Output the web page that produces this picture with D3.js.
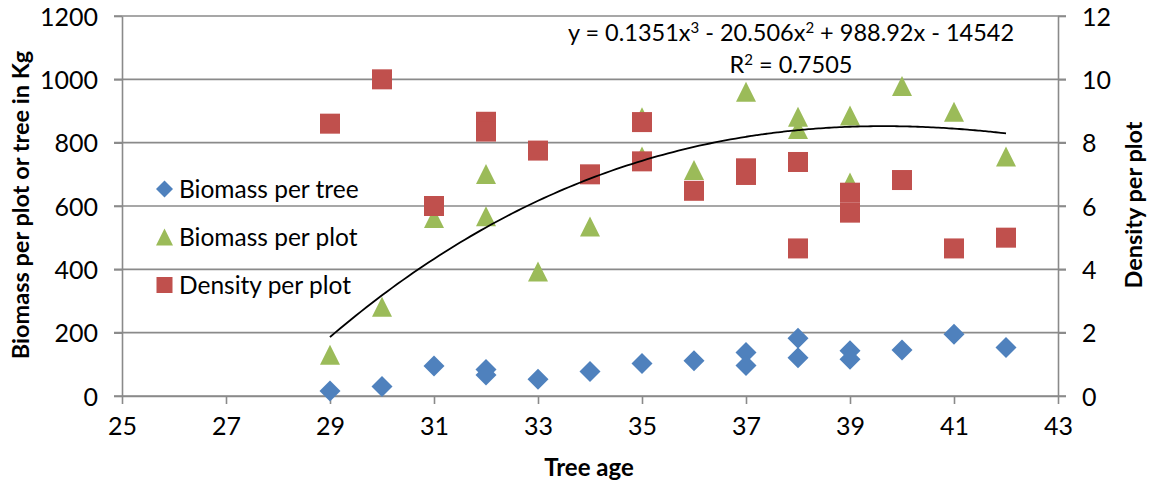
<!DOCTYPE html>
<html>
<head>
<meta charset="utf-8">
<script src="https://cdn.jsdelivr.net/npm/d3@7"></script>
<style>
  html, body { margin: 0; padding: 0; background: #fff; }
  svg { display: block; font-family: Lato, "Open Sans", sans-serif; }
</style>
</head>
<body>
<svg id="chart" width="1150" height="486"></svg>
<script>
// Tree age (x) for each series
const treeAges    = [29, 30, 31, 32, 32, 33, 34, 35, 36, 37, 37, 38, 38, 39, 39, 40, 41, 42];
const biomassTree = [16, 30, 95, 84, 66, 53, 77, 103, 111, 137, 96, 182, 121, 143, 116, 145, 195, 153];

const plotAges    = [29, 30, 31, 32, 32, 33, 34, 35, 35, 36, 37, 38, 38, 39, 39, 40, 41, 42];
const biomassPlot = [130, 282, 562, 701, 568, 393, 535, 880, 756, 714, 961, 882, 843, 886, 674, 979, 898, 756];

const densityAges = [29, 30, 31, 32, 32, 33, 34, 35, 35, 36, 37, 37, 38, 38, 39, 39, 40, 41, 42];
const densityPlot = [8.6, 10.0, 6.0, 8.66, 8.35, 7.75, 7.0, 8.65, 7.41, 6.48, 7.19, 6.98, 7.39, 4.66, 6.42, 5.79, 6.82, 4.66, 5.0];

// Polynomial trendline (order 3) on biomass per plot: c3*x^3 + c2*x^2 + c1*x + c0
const trendCoefs = [0.1351, -20.506, 988.92, -14542];
const trendRange = [29, 42];
const trendR2 = "0.7505";

// Axis ticks
const xTicks = [25, 27, 29, 31, 33, 35, 37, 39, 41, 43];
const leftTicks = [0, 200, 400, 600, 800, 1000, 1200];
const rightTicks = [0, 2, 4, 6, 8, 10, 12];

const seriesNames = ["Biomass per tree", "Biomass per plot", "Density per plot"];
const colors = { tree: "#4F81BD", plot: "#9BBB59", density: "#C0504D" };

const svg = d3.select("#chart");
const L = 122, R = 1058, T = 16, B = 396;

const x = d3.scaleLinear().domain([25, 43]).range([L, R]);
const yL = d3.scaleLinear().domain([0, 1200]).range([B, T]);
const yR = d3.scaleLinear().domain([0, 12]).range([B, T]);

const gridColor = "#8a8a8a";
const plain = d3.format("d");

// Horizontal gridlines (extend past the axes as tick marks)
svg.append("g").selectAll("line").data(leftTicks).join("line")
  .attr("x1", L - 8).attr("x2", R + 8)
  .attr("y1", d => yL(d)).attr("y2", d => yL(d))
  .attr("stroke", gridColor).attr("stroke-width", 1.6);

// Left axis
const gL = svg.append("g").attr("transform", `translate(${L},0)`)
  .call(d3.axisLeft(yL).tickValues(leftTicks).tickFormat(plain).tickSize(8).tickPadding(16).tickSizeOuter(0));
// Right axis
const gR = svg.append("g").attr("transform", `translate(${R},0)`)
  .call(d3.axisRight(yR).tickValues(rightTicks).tickFormat(plain).tickSize(8).tickPadding(16).tickSizeOuter(0));
// Bottom axis
const gB = svg.append("g").attr("transform", `translate(0,${B})`)
  .call(d3.axisBottom(x).tickValues(xTicks).tickFormat(plain).tickSize(8).tickPadding(13).tickSizeOuter(0));

[gL, gR, gB].forEach(g => {
  g.select(".domain").attr("stroke", gridColor).attr("stroke-width", 1.6);
  g.selectAll(".tick line").attr("stroke", gridColor).attr("stroke-width", 1.6);
  g.selectAll(".tick text").attr("fill", "#000").style("font-size", "25px")
    .style("font-family", "Lato, sans-serif");
});
gL.selectAll(".tick text").attr("dy", "0.36em");
gR.selectAll(".tick text").attr("dy", "0.36em");

// Marker shapes
function diamond(g, cx, cy, r) {
  g.append("path").attr("d", `M${cx},${cy - r}L${cx + r},${cy}L${cx},${cy + r}L${cx - r},${cy}Z`);
}
function triangle(g, cx, cy, s) {
  const h = s;
  g.append("path").attr("d", `M${cx},${cy - h / 2}L${cx + s / 2},${cy + h / 2}L${cx - s / 2},${cy + h / 2}Z`);
}
function square(g, cx, cy, s) {
  g.append("rect").attr("x", cx - s / 2).attr("y", cy - s / 2).attr("width", s).attr("height", s);
}

// Biomass per tree (diamonds)
const gTree = svg.append("g").attr("fill", colors.tree);
treeAges.forEach((a, i) => diamond(gTree, x(a), yL(biomassTree[i]), 10.5));

// Biomass per plot (triangles)
const gPlot = svg.append("g").attr("fill", colors.plot);
plotAges.forEach((a, i) => triangle(gPlot, x(a), yL(biomassPlot[i]), 20));

// Density per plot (squares, secondary axis)
const gDen = svg.append("g").attr("fill", colors.density);
densityAges.forEach((a, i) => square(gDen, x(a), yR(densityPlot[i]), 20));

// Trendline
const poly = t => trendCoefs[0] * t ** 3 + trendCoefs[1] * t ** 2 + trendCoefs[2] * t + trendCoefs[3];
const trendPts = d3.range(trendRange[0], trendRange[1] + 0.001, 0.1).map(t => [t, poly(t)]);
svg.append("path")
  .attr("d", d3.line().x(d => x(d[0])).y(d => yL(d[1])).curve(d3.curveMonotoneX)(trendPts))
  .attr("fill", "none").attr("stroke", "#000").attr("stroke-width", 1.8);

// Trendline equation label
const eq = svg.append("text").attr("x", 791).attr("y", 41).attr("text-anchor", "middle")
  .style("font-size", "23.5px").attr("fill", "#000");
const fmt = v => String(Math.abs(v));
eq.append("tspan").text(`y = ${fmt(trendCoefs[0])}x`);
eq.append("tspan").attr("dy", -8).style("font-size", "15px").text("3");
eq.append("tspan").attr("dy", 8).text(` - ${fmt(trendCoefs[1])}x`);
eq.append("tspan").attr("dy", -8).style("font-size", "15px").text("2");
eq.append("tspan").attr("dy", 8).text(` + ${fmt(trendCoefs[2])}x - ${fmt(trendCoefs[3])}`);

const r2 = svg.append("text").attr("x", 791).attr("y", 73).attr("text-anchor", "middle")
  .style("font-size", "23.5px").attr("fill", "#000");
r2.append("tspan").text("R");
r2.append("tspan").attr("dy", -8).style("font-size", "15px").text("2");
r2.append("tspan").attr("dy", 8).text(` = ${trendR2}`);

// Legend
const legend = svg.append("g");
const legY = [189, 237, 285];
diamond(legend.append("g").attr("fill", colors.tree), 164.5, legY[0], 8.5);
triangle(legend.append("g").attr("fill", colors.plot), 164.5, legY[1], 17);
square(legend.append("g").attr("fill", colors.density), 164.5, legY[2], 16);
legend.selectAll("text.lab").data(seriesNames).join("text")
  .attr("class", "lab")
  .attr("x", 179).attr("y", (d, i) => legY[i]).attr("dy", "0.36em")
  .style("font-size", "24.5px").attr("fill", "#000").text(d => d);

// Axis titles
svg.append("text").attr("transform", `translate(29,205) rotate(-90)`)
  .attr("text-anchor", "middle").style("font-size", "23.5px").style("font-weight", "bold")
  .text("Biomass per plot or tree in Kg");
svg.append("text").attr("transform", `translate(1142,205) rotate(-90)`)
  .attr("text-anchor", "middle").style("font-size", "23.5px").style("font-weight", "bold")
  .text("Density per plot");
svg.append("text").attr("x", 589).attr("y", 476)
  .attr("text-anchor", "middle").style("font-size", "24px").style("font-weight", "bold")
  .text("Tree age");
</script>
</body>
</html>
